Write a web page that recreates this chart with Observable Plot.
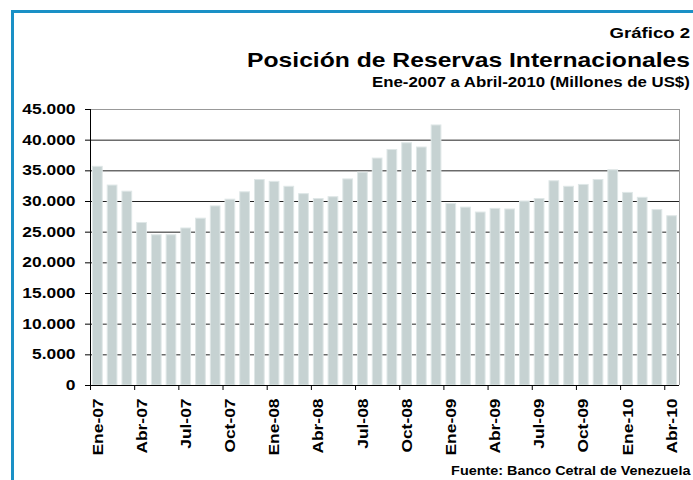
<!DOCTYPE html>
<html>
<head>
<meta charset="utf-8">
<script src="https://cdn.jsdelivr.net/npm/d3@7"></script>
<script src="https://cdn.jsdelivr.net/npm/@observablehq/plot@0.6"></script>
<style>
  html, body { margin: 0; padding: 0; background: #fff; }
  #wrap { position: relative; width: 693px; height: 480px; overflow: hidden; background: #fff;
          font-family: "Liberation Sans", Arial, sans-serif; font-weight: bold; color: #000; }
  #frame { position: absolute; left: 11px; top: 10px; width: 700px; height: 500px;
           border: 3px solid #1a90c6; box-sizing: border-box; }
  .t { position: absolute; right: 3px; white-space: nowrap; text-align: right; line-height: normal;
       transform: scaleX(1.2); transform-origin: right center; }
  #g2 { top: 24px; font-size: 15.5px; }
  #title { top: 47.5px; font-size: 21px; transform: scaleX(1.175); }
  #sub { top: 74px; font-size: 14px; }
  #src { top: 464px; font-size: 12px; }
  #chart { position: absolute; left: 0; top: 95px; }
</style>
</head>
<body>
<div id="wrap">
  <div id="frame"></div>
  <div class="t" id="g2">Gráfico 2</div>
  <div class="t" id="title">Posición de Reservas Internacionales</div>
  <div class="t" id="sub">Ene-2007 a Abril-2010 (Millones de US$)</div>
  <div id="chart"></div>
  <div class="t" id="src">Fuente: Banco Cetral de Venezuela</div>
</div>
<script>
const months = [
  "Ene-07","Feb-07","Mar-07","Abr-07","May-07","Jun-07","Jul-07","Ago-07","Sep-07","Oct-07","Nov-07","Dic-07",
  "Ene-08","Feb-08","Mar-08","Abr-08","May-08","Jun-08","Jul-08","Ago-08","Sep-08","Oct-08","Nov-08","Dic-08",
  "Ene-09","Feb-09","Mar-09","Abr-09","May-09","Jun-09","Jul-09","Ago-09","Sep-09","Oct-09","Nov-09","Dic-09",
  "Ene-10","Feb-10","Mar-10","Abr-10"
];
const reserves = [
  35650, 32600, 31600, 26500, 24500, 24500, 25600, 27200, 29200, 30300, 31500, 33500,
  33200, 32400, 31200, 30400, 30700, 33600, 34700, 37000, 38400, 39500, 38800, 42400,
  29600, 29000, 28200, 28800, 28700, 30000, 30400, 33300, 32400, 32700, 33500, 35100,
  31400, 30600, 28600, 27600
];
const tickLabels = ["Ene-07","Abr-07","Jul-07","Oct-07","Ene-08","Abr-08","Jul-08","Oct-08","Ene-09","Abr-09","Jul-09","Oct-09","Ene-10","Abr-10"];
const yTicks = [0, 5000, 10000, 15000, 20000, 25000, 30000, 35000, 40000, 45000];

const data = months.map((m, i) => ({month: m, i, value: reserves[i]}));
const labelData = tickLabels.map(l => ({label: l, i: months.indexOf(l)}));
const tickPos = labelData.map(d => d.i);
const fmt = d3.formatLocale({decimal: ",", thousands: ".", grouping: [3], currency: ["", ""]}).format(",");
const n = months.length;
const yMax = yTicks[yTicks.length - 1];

const chart = Plot.plot({
  width: 693,
  height: 385,
  marginLeft: 90,
  marginRight: 14,
  marginTop: 14,
  marginBottom: 95,
  style: {fontFamily: "'Liberation Sans', Arial, sans-serif", fontWeight: "bold", fontSize: "14.5px", color: "#000", background: "transparent", overflow: "visible"},
  x: {domain: [0, n], axis: null, label: null},
  y: {domain: [0, yMax], axis: null, label: null},
  marks: [
    Plot.ruleY(yTicks.filter(v => v > 0 && v < yMax), {stroke: "#222", strokeWidth: 1}),
    Plot.ruleY([yMax], {stroke: "#999", strokeWidth: 1}),
    Plot.ruleX([n], {y1: 0, y2: yMax, stroke: "#999", strokeWidth: 1}),
    Plot.rect(data, {x1: "i", x2: d => d.i + 1, y1: 0, y2: "value", fill: "#c6d2d2", stroke: "#dfe7e7", strokeWidth: 1, insetLeft: 2.5, insetRight: 2.5}),
    Plot.ruleX([0], {y1: 0, y2: yMax, stroke: "#000", strokeWidth: 1}),
    Plot.ruleY([0], {stroke: "#000", strokeWidth: 1}),
    Plot.axisY({ticks: yTicks, tickFormat: fmt, tickSize: 5, tickPadding: 10, stroke: "#000", fill: "#000", fontSize: 14.5, fontWeight: "bold", label: null}),
    Plot.axisX({ticks: tickPos, tickSize: 5, tickFormat: () => "", stroke: "#000", label: null}),
    Plot.text(labelData, {x: d => d.i + 0.5, y: 0, text: "label", rotate: -90, textAnchor: "end", dy: 13, fill: "#000", fontSize: 14.5, fontWeight: "bold"})
  ]
});

// widen the glyphs along the text direction to match the reference font
d3.select(chart).selectAll("g[aria-label='y-axis tick label'] text, g[aria-label='text'] text")
  .attr("transform", function() { return (this.getAttribute("transform") || "") + " scale(1.2,1)"; });

document.getElementById("chart").appendChild(chart);
</script>
</body>
</html>
